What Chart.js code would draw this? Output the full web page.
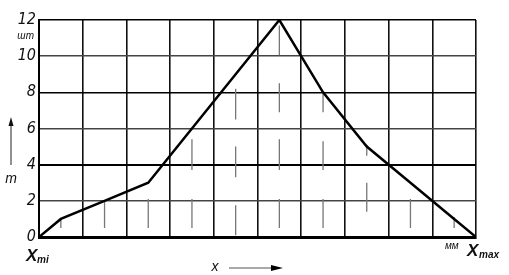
<!DOCTYPE html>
<html>
<head>
<meta charset="utf-8">
<script src="https://cdn.jsdelivr.net/npm/chart.js@4/dist/chart.umd.min.js"></script>
<style>
  body { margin: 0; background: #fff; }
  #wrap { width: 509px; height: 275px; position: relative; }
</style>
</head>
<body>
<div id="wrap"><canvas id="chart"></canvas></div>
<script>
// frequency polygon: class midpoints and counts (with zero ends at x min / x max)
const binMids = [0, 0.5, 1.5, 2.5, 3.5, 4.5, 5.5, 6.5, 7.5, 8.5, 9.5, 10];
const counts = [0, 1, 2, 3, 6, 9, 12, 8, 5, 3, 1, 0];
const yTicks = [0, 2, 4, 6, 8, 10, 12];

// short grey hatch strokes inside the polygon
const hatchX =    [0.5, 1.5, 2.5, 3.5, 3.5, 4.5, 4.5, 4.5, 5.5, 5.5, 5.5, 5.5,  6.5, 6.5, 6.5, 7.5, 7.5, 8.5, 9.5];
const hatchFrom = [0.5, 0.5, 0.5, 0.5, 3.7, 0.1, 3.3, 6.5, 0.5, 3.7, 6.9, 10.05, 0.5, 3.7, 6.9, 1.4, 4.5, 0.5, 0.5];
const hatchTo =   [1.0, 2.0, 2.1, 2.1, 5.4, 1.75, 5.0, 8.2, 2.1, 5.4, 8.5, 11.7, 2.1, 5.3, 8.0, 3.0, 5.1, 2.1, 1.1];

const polyPoints = binMids.map((x, i) => ({ x: x, y: counts[i] }));

const hatchPoints = [];
hatchX.forEach((x, i) => {
    hatchPoints.push({ x: x, y: hatchFrom[i] });
    hatchPoints.push({ x: x, y: hatchTo[i] });
    hatchPoints.push({ x: x, y: null });
});

const tickFont = { family: "'Liberation Sans Narrow', 'DejaVu Sans Condensed', 'Liberation Sans'", size: 16, style: "italic" };

// extra labels drawn around the plot: units, axis arrows, x min / x max
const labelsPlugin = {
    id: "labels",
    afterDraw(chart) {
        const ctx = chart.ctx;
        const xs = chart.scales.x;
        ctx.save();
        ctx.fillStyle = "#111";
        ctx.strokeStyle = "#222";
        ctx.textBaseline = "middle";

        // unit under the 12 label
        ctx.font = "italic 10px 'Liberation Sans'";
        ctx.textAlign = "right";
        ctx.fillText("шт", 34, 36);

        // y arrow and m
        ctx.lineWidth = 1;
        ctx.beginPath();
        ctx.moveTo(11, 165);
        ctx.lineTo(11, 124);
        ctx.stroke();
        ctx.beginPath();
        ctx.moveTo(11, 117);
        ctx.lineTo(8.5, 126);
        ctx.lineTo(13.5, 126);
        ctx.closePath();
        ctx.fill();
        ctx.font = "italic 14px 'Liberation Sans'";
        ctx.textAlign = "center";
        ctx.fillText("m", 11, 179);

        // x min
        const x0 = xs.getPixelForValue(0);
        ctx.textAlign = "left";
        ctx.font = "italic bold 17px 'Liberation Sans'";
        ctx.fillText("X", x0 - 13, 256);
        ctx.font = "italic bold 10px 'Liberation Sans'";
        ctx.fillText("mi", x0 - 2, 260);

        // mm and x max
        const x1 = xs.getPixelForValue(10);
        ctx.font = "italic 10px 'Liberation Sans'";
        ctx.fillText("мм", x1 - 31, 246);
        ctx.font = "italic bold 17px 'Liberation Sans'";
        ctx.fillText("X", x1 - 9, 251);
        ctx.font = "italic bold 10px 'Liberation Sans'";
        ctx.fillText("max", x1 + 3, 255);

        // x arrow below the axis
        ctx.font = "italic 14px 'Liberation Sans'";
        ctx.textAlign = "center";
        ctx.fillText("x", 215, 267);
        ctx.lineWidth = 1.2;
        ctx.strokeStyle = "#555";
        ctx.beginPath();
        ctx.moveTo(229, 268);
        ctx.lineTo(272, 268);
        ctx.stroke();
        ctx.fillStyle = "#000";
        ctx.beginPath();
        ctx.moveTo(283, 268);
        ctx.lineTo(271, 265);
        ctx.lineTo(271, 271);
        ctx.closePath();
        ctx.fill();
        ctx.restore();
    }
};

new Chart(document.getElementById("chart"), {
    type: "line",
    data: {
        datasets: [
            {
                data: polyPoints,
                borderColor: "#000",
                borderWidth: 2.5,
                pointRadius: 0,
                tension: 0,
                order: 1
            },
            {
                data: hatchPoints,
                borderColor: "#777",
                borderWidth: 1.3,
                pointRadius: 0,
                spanGaps: false,
                order: 2
            }
        ]
    },
    options: {
        responsive: true,
        maintainAspectRatio: false,
        devicePixelRatio: 1,
        animation: false,
        layout: { padding: { top: 20, right: 33, bottom: 0, left: 0 } },
        plugins: {
            legend: { display: false },
            tooltip: { enabled: false }
        },
        scales: {
            x: {
                type: "linear",
                min: 0,
                max: 10,
                ticks: { stepSize: 1, display: false },
                grid: { color: "#111", lineWidth: 1.6, drawTicks: false },
                border: { display: true, color: "#000", width: 3 },
                afterFit: function(scale) { scale.height = 38; }
            },
            y: {
                min: 0,
                max: 12,
                afterBuildTicks: function(scale) { scale.ticks = yTicks.map(v => ({ value: v })); },
                ticks: { font: tickFont, color: "#111", padding: 3 },
                grid: {
                    color: ctx => (ctx.tick && ctx.tick.value % 4 === 0) ? "#000" : "#444",
                    lineWidth: ctx => (ctx.tick && ctx.tick.value === 4) ? 2 : 1.5,
                    drawTicks: false
                },
                border: { display: true, color: "#000", width: 2 },
                afterFit: function(scale) { scale.width = 39; }
            }
        }
    },
    plugins: [labelsPlugin]
});
</script>
</body>
</html>
